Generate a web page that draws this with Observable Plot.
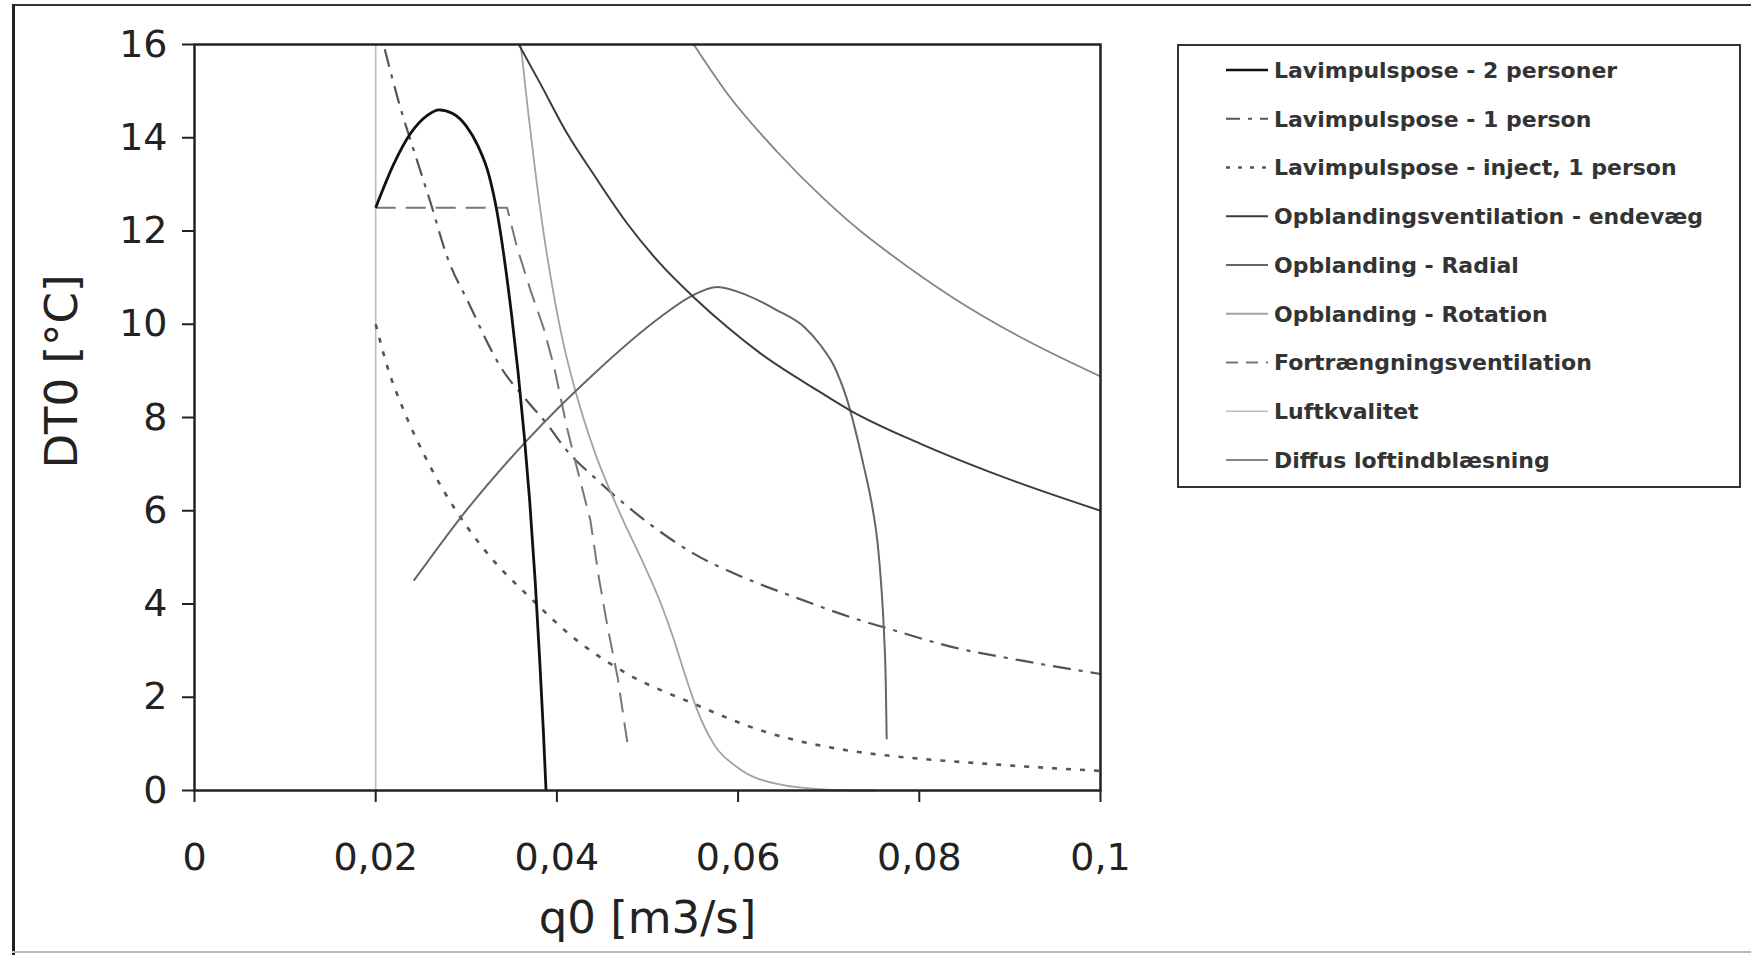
<!DOCTYPE html>
<html>
<head>
<meta charset="utf-8">
<script src="https://cdn.jsdelivr.net/npm/d3@7"></script>
<script src="https://cdn.jsdelivr.net/npm/@observablehq/plot@0.6"></script>
<style>
  body { margin: 0; background: #fff; }
  #wrap { position: relative; width: 1751px; height: 955px; overflow: hidden; background: #fff; }
  #wrap svg.plot { position: absolute; left: 0; top: 0; }
  .edge { position: absolute; }
  #legend { position: absolute; left: 0; top: 0; }
</style>
</head>
<body>
<div id="wrap"></div>
<script>
// ---------- data (q0 in m3/s, DT0 in °C) ----------
const seriesNames = [
  "Lavimpulspose - 2 personer",
  "Lavimpulspose - 1 person",
  "Lavimpulspose - inject, 1 person",
  "Opblandingsventilation - endevæg",
  "Opblanding - Radial",
  "Opblanding - Rotation",
  "Fortrængningsventilation",
  "Luftkvalitet",
  "Diffus loftindblæsning"
];

const q1  = [0.0200, 0.0220, 0.0238, 0.0257, 0.0270, 0.0285, 0.0300, 0.0313, 0.0325, 0.0334, 0.0342, 0.0350, 0.0357, 0.0364, 0.0370, 0.0376, 0.0381, 0.0385, 0.0388];
const dt1 = [12.5, 13.44, 14.08, 14.48, 14.6, 14.52, 14.25, 13.82, 13.2, 12.4, 11.4, 10.2, 9.0, 7.6, 6.2, 4.5, 2.8, 1.3, 0];

const q2  = [0.0210, 0.0227, 0.0242, 0.0261, 0.0279, 0.0303, 0.0338, 0.0367, 0.0389, 0.0411, 0.0441, 0.0470, 0.0507, 0.0551, 0.0606, 0.0662, 0.0735, 0.0761, 0.0838, 0.0912, 0.1000];
const dt2 = [15.9, 14.66, 13.73, 12.58, 11.44, 10.44, 9.08, 8.36, 7.86, 7.29, 6.72, 6.22, 5.65, 5.08, 4.57, 4.15, 3.65, 3.5, 3.07, 2.79, 2.5];

const q3  = [0.0200, 0.0213, 0.0231, 0.0253, 0.0275, 0.0301, 0.0330, 0.0367, 0.0422, 0.0478, 0.0551, 0.0625, 0.0735, 0.0765, 0.0875, 0.1000];
const dt3 = [10.0, 9.08, 8.15, 7.22, 6.43, 5.65, 4.93, 4.2, 3.22, 2.5, 1.86, 1.29, 0.82, 0.75, 0.57, 0.42];

const q4  = [0.0358, 0.0382, 0.0411, 0.0441, 0.0478, 0.0514, 0.0551, 0.0588, 0.0625, 0.0691, 0.0724, 0.0801, 0.0893, 0.1000];
const dt4 = [16.0, 15.15, 14.1, 13.2, 12.15, 11.3, 10.58, 9.94, 9.37, 8.54, 8.15, 7.44, 6.72, 6.0];

const q5  = [0.0242, 0.0294, 0.0367, 0.0441, 0.0514, 0.0548, 0.0577, 0.0610, 0.0643, 0.0673, 0.0691, 0.0706, 0.0720, 0.0739, 0.0748, 0.0754, 0.0758, 0.0761, 0.0763, 0.0764];
const dt5 = [4.5, 5.86, 7.51, 8.94, 10.15, 10.6, 10.8, 10.62, 10.3, 9.94, 9.55, 9.1, 8.4, 6.93, 6.1, 5.3, 4.4, 3.4, 2.3, 1.1];

const q6  = [0.0360, 0.0368, 0.0376, 0.0385, 0.0395, 0.0407, 0.0420, 0.0441, 0.0470, 0.0496, 0.0515, 0.0528, 0.0540, 0.0555, 0.0573, 0.0599, 0.0643, 0.0698, 0.0750];
const dt6 = [16.0, 14.6, 13.3, 12.0, 10.8, 9.6, 8.6, 7.3, 5.93, 4.85, 4.0, 3.3, 2.57, 1.72, 1.0, 0.5, 0.14, 0.02, 0];

const q7  = [0.0200, 0.0345, 0.0356, 0.0371, 0.0385, 0.0397, 0.0411, 0.0422, 0.0437, 0.0446, 0.0456, 0.0467, 0.0478];
const dt7 = [12.5, 12.5, 11.65, 10.72, 9.94, 9.08, 7.79, 6.93, 5.79, 4.6, 3.5, 2.43, 1.0];

const q8  = [0.0200, 0.0200];
const dt8 = [0, 16];

const q9  = [0.0551, 0.0588, 0.0643, 0.0698, 0.0735, 0.0765, 0.0838, 0.0912, 0.1000];
const dt9 = [16.0, 14.95, 13.7, 12.63, 12.0, 11.55, 10.56, 9.72, 8.88];

const xTicks = [0, 0.02, 0.04, 0.06, 0.08, 0.1];
const xTickLabels = ["0", "0,02", "0,04", "0,06", "0,08", "0,1"];
const yTicks = [0, 2, 4, 6, 8, 10, 12, 14, 16];
const xTitle = "q0 [m3/s]";
const yTitle = "DT0 [°C]";

// ---------- styles ----------
const seriesQ  = [q1, q2, q3, q4, q5, q6, q7, q8, q9];
const seriesDT = [dt1, dt2, dt3, dt4, dt5, dt6, dt7, dt8, dt9];
const strokes  = ["#111111", "#555555", "#555555", "#3c3c3c", "#666666", "#a2a2a2", "#777777", "#bdbdbd", "#858585"];
const widths   = [2.8, 2.2, 2.6, 2.0, 2.0, 1.8, 2.0, 1.6, 1.8];
const dashes   = [null, "18,8,4,8", "5,9", null, null, null, "20,10", null, null];
const legendDashes = [null, "14,8,4,8", "4,8", null, null, null, "12,8", null, null];
const curves   = ["monotone-x", "monotone-x", "monotone-x", "monotone-x", "monotone-x", "monotone-x", "linear", "linear", "monotone-x"];
const drawOrder = [7, 2, 1, 6, 5, 8, 4, 3, 0];

const tables = seriesQ.map((qs, s) => qs.map((q, i) => ({q, dt: seriesDT[s][i], name: seriesNames[s]})));

const lineMarks = drawOrder.map(s => Plot.line(tables[s], {
  x: "q", y: "dt",
  stroke: strokes[s], strokeWidth: widths[s],
  strokeDasharray: dashes[s] ?? undefined,
  curve: curves[s],
  strokeLinecap: "butt"
}));

const W = 1751, H = 955;
const plot = Plot.plot({
  width: W, height: H,
  marginLeft: 194, marginRight: 651, marginTop: 44, marginBottom: 165,
  x: {domain: [0, 0.1]},
  y: {domain: [0, 16]},
  style: {fontFamily: "'DejaVu Sans', Verdana, sans-serif", fontSize: "38px", color: "#222", background: "transparent", overflow: "visible"},
  marks: [
    ...lineMarks,
    Plot.frame({stroke: "#222", strokeWidth: 2.5}),
    Plot.axisX({ticks: xTicks, tickFormat: d => xTickLabels[xTicks.indexOf(d)], tickSize: 12, tickPadding: 41, label: null, stroke: "#222", strokeWidth: 2, fill: "#222"}),
    Plot.axisY({ticks: yTicks, tickSize: 12, tickPadding: 15, label: null, stroke: "#222", strokeWidth: 2, fill: "#222"}),
    Plot.text([xTitle], {frameAnchor: "bottom", dy: 128, text: d => d, fontSize: 45, fill: "#222", textAnchor: "middle", lineAnchor: "middle"}),
    Plot.text([yTitle], {frameAnchor: "left", rotate: -90, dx: -132, dy: -46, text: d => d, fontSize: 45, fill: "#222", textAnchor: "middle", lineAnchor: "middle"})
  ]
});
plot.classList.add("plot");
const wrap = document.getElementById("wrap");
wrap.appendChild(plot);

// ---------- chart area border ----------
function edge(css) { const d = document.createElement("div"); d.className = "edge"; Object.assign(d.style, css); wrap.appendChild(d); }
edge({left: "12px", top: "4px", width: (W - 12) + "px", height: "2px", background: "#333"});
edge({left: "12px", top: "4px", width: "3px", height: (H - 4) + "px", background: "#222"});
edge({left: "12px", top: "951px", width: (W - 12) + "px", height: "2px", background: "#bbb"});

// ---------- legend ----------
const legend = d3.create("svg").attr("id", "legend").attr("width", W).attr("height", H);
legend.append("rect").attr("x", 1178).attr("y", 45).attr("width", 562).attr("height", 442)
  .attr("fill", "#fff").attr("stroke", "#333").attr("stroke-width", 2);
const rowTop = 70, rowGap = 48.75;
seriesNames.forEach((name, s) => {
  const cy = rowTop + s * rowGap;
  legend.append("line").attr("x1", 1226).attr("x2", 1268).attr("y1", cy).attr("y2", cy)
    .attr("stroke", strokes[s]).attr("stroke-width", Math.min(widths[s], 2.4))
    .attr("stroke-dasharray", legendDashes[s]);
  legend.append("text").attr("x", 1274).attr("y", cy).attr("dy", "0.36em")
    .attr("font-family", "'DejaVu Sans', Verdana, sans-serif").attr("font-weight", "bold")
    .attr("font-size", 22).attr("fill", "#333").text(name);
});
wrap.appendChild(legend.node());
</script>
</body>
</html>
